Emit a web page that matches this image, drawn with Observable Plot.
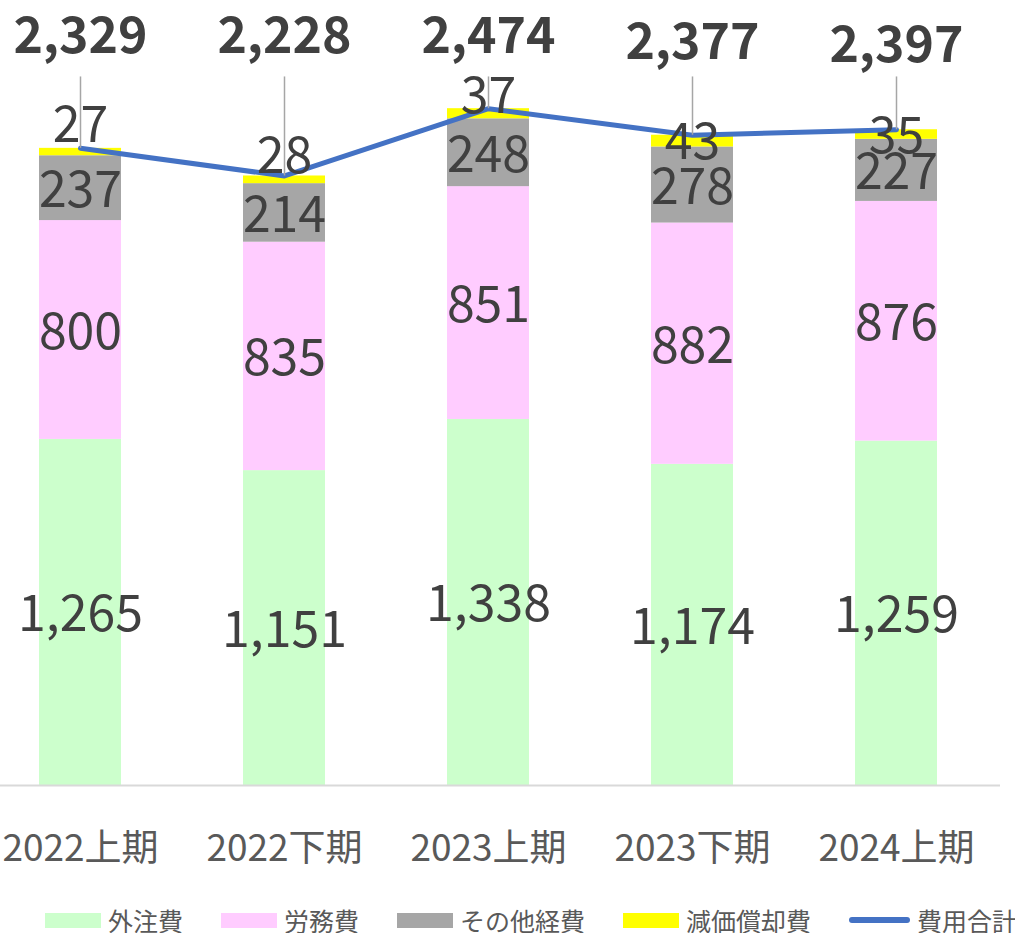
<!DOCTYPE html>
<html>
<head>
<meta charset="utf-8">
<script src="https://cdn.jsdelivr.net/npm/d3@7"></script>
<script src="https://cdn.jsdelivr.net/npm/@observablehq/plot@0.6"></script>
<style>
  html, body { margin: 0; padding: 0; background: #fff; }
  body { width: 1015px; height: 933px; position: relative; overflow: hidden; font-family: "Noto Sans CJK JP", "Noto Sans", sans-serif; }
  #chart { position: absolute; left: 0; top: 0; }
  #legend { position: absolute; left: 45px; top: 903px; display: flex; align-items: center; gap: 38px; color: #595959; font-size: 25px; line-height: 34px; white-space: nowrap; }
  .item { display: flex; align-items: center; gap: 7px; }
  .sw { width: 56px; height: 15px; }
  .ln { width: 61px; height: 6px; border-radius: 3px; background: #4472C4; }
</style>
</head>
<body>
<div id="chart"></div>
<div id="legend"></div>
<script>
// ---- data ----
const categories = ["2022上期", "2022下期", "2023上期", "2023下期", "2024上期"];
const seriesNames = ["外注費", "労務費", "その他経費", "減価償却費"];
const gaichuhi = [1265, 1151, 1338, 1174, 1259];
const roumuhi = [800, 835, 851, 882, 876];
const sonotaKeihi = [237, 214, 248, 278, 227];
const genkaShokyakuhi = [27, 28, 37, 43, 35];
const totals = [2329, 2228, 2474, 2377, 2397];
const totalName = "費用合計";

// ---- styling / layout ----
const seriesColors = ["#CCFFCC", "#FFCCFF", "#A6A6A6", "#FFFF00"];
const lineColor = "#4472C4";
const font = "'Noto Sans CJK JP', 'Noto Sans', sans-serif";
// small manual nudges (px) for the thin yellow segment labels and total labels (as in the original)
const smallLabelNudge = [-26, -23, -17, 2, 2];
const totalLabelNudge = [-2, -2, -2, 4, 7];

const seriesValues = [gaichuhi, roumuhi, sonotaKeihi, genkaShokyakuhi];
const rows = [];
categories.forEach((cat, i) => {
  let acc = 0;
  seriesValues.forEach((vals, s) => {
    const v = vals[i];
    rows.push({cat, series: seriesNames[s], s, i, value: v, y1: acc, y2: acc + v, mid: acc + v / 2});
    acc += v;
  });
});
const totalRows = categories.map((cat, i) => ({cat, i, total: totals[i]}));
const fmt = d3.format(",");

const labelStyle = {x: "cat", y: "mid", text: d => fmt(d.value), fontSize: 50, fill: "#404040", fontFamily: font};
const smallLabelMarks = categories.map((c, i) =>
  Plot.text(rows.filter(d => d.s === 3 && d.i === i), {...labelStyle, dy: smallLabelNudge[i]})
);
const totalLabelMarks = categories.map((c, i) =>
  Plot.text(totalRows.filter(d => d.i === i), {x: "cat", y: () => 2728, dy: totalLabelNudge[i], text: d => fmt(d.total), fontSize: 50, fontWeight: "bold", fill: "#404040", fontFamily: font})
);

const plot = Plot.plot({
  width: 1015,
  height: 890,
  marginLeft: 0,
  marginRight: 15,
  marginTop: 0,
  marginBottom: 105,
  style: {fontFamily: font, color: "#595959", background: "transparent", overflow: "visible"},
  x: {domain: categories, range: [-24.5, 1000], paddingInner: 0.6, paddingOuter: 0.3, label: null},
  y: {domain: [0, 2800], range: [785, 19], axis: null},
  color: {domain: seriesNames, range: seriesColors},
  marks: [
    Plot.barY(rows, {x: "cat", y1: "y1", y2: "y2", fill: "series"}),
    Plot.ruleY([0], {stroke: "#D9D9D9", strokeWidth: 2}),
    Plot.line(totalRows, {x: "cat", y: "total", stroke: lineColor, strokeWidth: 5, strokeLinecap: "round", strokeLinejoin: "round"}),
    Plot.text(rows.filter(d => d.s !== 3), {...labelStyle, dy: 3}),
    ...smallLabelMarks,
    Plot.ruleX(totalRows, {x: "cat", y1: 2590, y2: "total", stroke: "#A6A6A6", strokeWidth: 1.5}),
    ...totalLabelMarks,
    Plot.axisX({tickSize: 0, tickPadding: 49, fontSize: 37, label: null})
  ]
});
document.getElementById("chart").appendChild(plot);

// legend
const legend = document.getElementById("legend");
seriesNames.forEach((name, k) => {
  const it = document.createElement("div");
  it.className = "item";
  it.innerHTML = `<div class="sw" style="background:${seriesColors[k]}"></div><span>${name}</span>`;
  legend.appendChild(it);
});
const lt = document.createElement("div");
lt.className = "item";
lt.innerHTML = `<div class="ln"></div><span>${totalName}</span>`;
legend.appendChild(lt);
</script>
</body>
</html>
